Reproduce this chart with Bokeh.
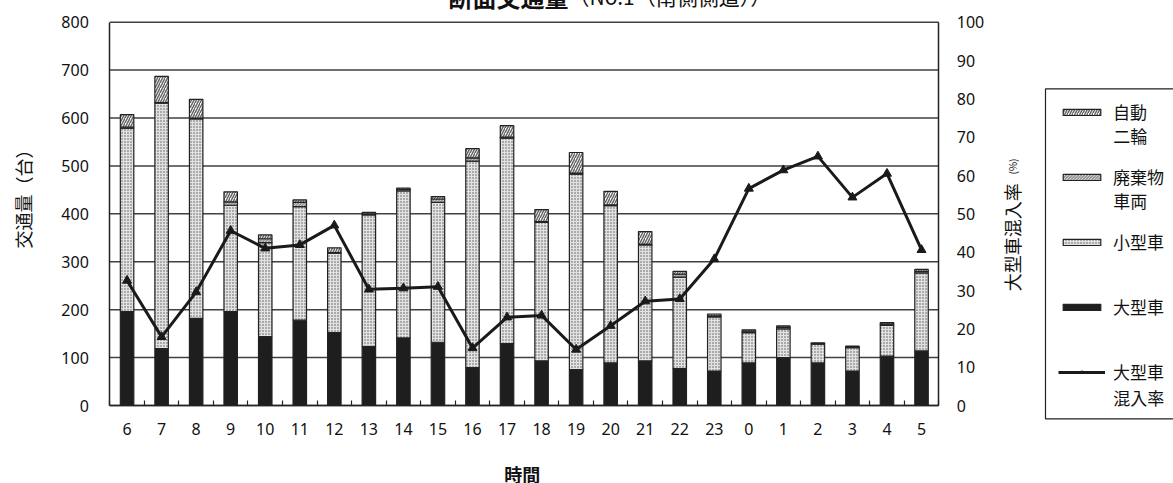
import math
from bokeh.plotting import figure
from bokeh.models import (ColumnDataSource, Range1d, LinearAxis, FixedTicker, Label,
                          Legend, LegendItem, BoxAnnotation)
from bokeh.embed import file_html
from bokeh.resources import INLINE

# ---- data ----
hours = ["6", "7", "8", "9", "10", "11", "12", "13", "14", "15", "16", "17",
         "18", "19", "20", "21", "22", "23", "0", "1", "2", "3", "4", "5"]
large = [196, 119, 182, 196, 144, 178, 152, 123, 141, 132, 79, 129,
         93, 75, 89, 93, 77, 72, 89, 100, 89, 72, 103, 114]
small = [383, 512, 416, 222, 196, 237, 166, 275, 307, 292, 431, 429,
         289, 408, 328, 242, 191, 113, 63, 60, 39, 49, 64, 163]
waste = [2, 1, 2, 7, 8, 9, 1, 2, 3, 7, 7, 2,
         2, 2, 2, 2, 6, 2, 3, 3, 1, 1, 3, 3]
moto = [26, 55, 39, 21, 8, 5, 10, 3, 3, 5, 19, 24,
        25, 43, 28, 26, 6, 4, 3, 3, 2, 2, 3, 4]
ratio = [32.6, 17.9, 29.6, 45.6, 41.0, 41.9, 47.0, 30.3, 30.6, 31.0, 15.0, 23.0,
         23.5, 14.6, 20.8, 27.2, 27.8, 38.2, 56.6, 61.4, 65.0, 54.3, 60.5, 40.6]
left_ticks = [0, 100, 200, 300, 400, 500, 600, 700, 800]
right_ticks = [0, 10, 20, 30, 40, 50, 60, 70, 80, 90, 100]
series_names = ["自動\n二輪", "廃棄物\n車両", "小型車", "大型車", "大型車\n混入率"]
title_main = "断面交通量"
title_sub = "（No.1（南側側道））"
x_title = "時間"
y_title = "交通量（台）"
y2_title = "大型車混入率"
y2_unit = "(%)"

n = len(hours)
x = [i + 0.5 for i in range(n)]
src = ColumnDataSource(dict(x=x, large=large, small=small, waste=waste,
                            moto=moto, ratio=ratio))

JP = "Noto Sans CJK JP"
NUM = "Noto Sans"

# canvas covers the window (page x 0..1173, page y -22..483)
W, H = 1173, 505
PX_L, PX_R = 109.3, 938.3          # plot-area left/right (page px)
PY_T, PY_B = 21.7, 405.0           # plot-area top/bottom (page px)
CAN_T, CAN_B = -22.0, 483.0
ymax = max(left_ticks)
ymax2 = max(right_ticks)
xs = (PX_R - PX_L) / n
ys = (PY_B - PY_T) / ymax
x_range = Range1d(-PX_L / xs, n + (W - PX_R) / xs)
y_range = Range1d(-(CAN_B - PY_B) / ys, (PY_B - CAN_T) / ys)
k = ymax2 / ymax
pct_range = Range1d(y_range.start * k, y_range.end * k)

p = figure(width=W, height=H, output_backend="svg", toolbar_location=None,
           x_range=x_range, y_range=y_range,
           min_border_left=0, min_border_right=0, min_border_top=0, min_border_bottom=0)
p.styles = {"position": "absolute", "left": "0px", "top": "-22px"}
p.background_fill_color = "white"
p.border_fill_color = "white"
p.outline_line_color = None
p.xgrid.visible = False
p.ygrid.visible = False

p.extra_y_ranges = {"pct": pct_range}
rax = LinearAxis(y_range_name="pct", ticker=FixedTicker(ticks=right_ticks))
p.add_layout(rax, "right")

lax = p.yaxis[0]
lax.ticker = FixedTicker(ticks=left_ticks)
lax.fixed_location = 0
lax.bounds = (0, ymax)
rax.fixed_location = n
rax.bounds = (0, ymax2)
for ax in [lax, rax]:
    ax.major_tick_in = 0
    ax.major_tick_out = 0
    ax.minor_tick_in = 0
    ax.minor_tick_out = 0
    ax.major_label_text_font = NUM
    ax.major_label_text_font_size = "16px"
    ax.major_label_text_color = "#111111"
    ax.axis_line_color = "#222222"
    ax.axis_line_width = 1.5
lax.major_label_standoff = 21
rax.major_label_standoff = 18

xa = p.xaxis[0]
xa.fixed_location = 0
xa.bounds = (0, n)
xa.ticker = FixedTicker(ticks=x, minor_ticks=list(range(n + 1)))
xa.major_label_overrides = {xi: h for xi, h in zip(x, hours)}
xa.major_tick_in = 0
xa.major_tick_out = 0
xa.minor_tick_in = 5
xa.minor_tick_out = 0
xa.minor_tick_line_color = "#222222"
xa.minor_tick_line_width = 1.2
xa.major_label_text_font = NUM
xa.major_label_text_font_size = "16px"
xa.major_label_text_color = "#111111"
xa.major_label_standoff = 17
xa.axis_line_color = "#222222"
xa.axis_line_width = 1.5

# horizontal gridlines limited to the plot area
p.segment(x0=[0] * len(left_ticks), x1=[n] * len(left_ticks), y0=left_ticks, y1=left_ticks,
          line_color="#404040", line_width=1.5, level="underlay")

# stacked bars
bars = p.vbar_stack(["large", "small", "waste", "moto"], x="x", width=0.39, source=src,
                    fill_color=["#1e1e1e", "#e2e2e2", "#ffffff", "#ffffff"],
                    hatch_pattern=[" ", "dot", "left_diagonal_line", "right_diagonal_line"],
                    hatch_color=["#1e1e1e", "#555555", "#777777", "#666666"],
                    hatch_scale=[1, 3, 3, 5],
                    hatch_weight=[1, 1, 1, 1.5],
                    line_color="#222222", line_width=1.2)

line_r = p.line("x", "ratio", source=src, y_range_name="pct", line_width=3,
                line_color="#1a1a1a")
tri_r = p.scatter("x", "ratio", source=src, y_range_name="pct", marker="triangle",
                  size=9, fill_color="#1a1a1a", line_color="#1a1a1a")

# legend (screen units: origin at bottom-left of canvas, y up)
def sy(page_y):
    return CAN_B - page_y

first = [s.split("\n")[0] for s in series_names]
legend = Legend(items=[
    LegendItem(label=first[0], renderers=[bars[3]]),
    LegendItem(label=first[1], renderers=[bars[2]]),
    LegendItem(label=first[2], renderers=[bars[1]]),
    LegendItem(label=first[3], renderers=[bars[0]]),
    LegendItem(label=first[4], renderers=[line_r, tri_r]),
], location=(1058, sy(384.1)), orientation="vertical", padding=0, margin=0,
    spacing=40, label_height=22, glyph_height=8, glyph_width=47, label_standoff=8,
    label_text_font=JP, label_text_font_size="17px", label_text_color="#111111",
    border_line_alpha=0, background_fill_alpha=0)
p.add_layout(legend)

box = BoxAnnotation(left=1045, right=1200, top=sy(88.3), bottom=sy(418.3),
                    left_units="screen", right_units="screen", top_units="screen",
                    bottom_units="screen", fill_alpha=0, line_color="#222222",
                    line_width=1.2, line_alpha=1)
p.add_layout(box)

# second lines of legend labels
for s, yy in zip(series_names, [135.0, 200.0, None, None, 396.5]):
    if "\n" in s:
        p.add_layout(Label(x=1112.7, y=sy(yy), x_units="screen", y_units="screen",
                           text=s.split("\n")[1], text_font=JP, text_font_size="17px",
                           text_color="#111111", text_baseline="middle", text_align="left"))

# titles
p.add_layout(Label(x=448, y=sy(-4.5), x_units="screen", y_units="screen", text=title_main,
                   text_font=JP, text_font_size="24px", text_font_style="bold",
                   text_color="#111111", text_baseline="alphabetic", text_align="left"))
p.add_layout(Label(x=568, y=sy(-4.5), x_units="screen", y_units="screen", text=title_sub,
                   text_font=JP, text_font_size="21px",
                   text_color="#111111", text_baseline="alphabetic", text_align="left"))
p.add_layout(Label(x=22.5, y=sy(194), x_units="screen", y_units="screen", text=y_title,
                   text_font=JP, text_font_size="18px", angle=math.pi / 2,
                   text_color="#111111", text_baseline="middle", text_align="center"))
p.add_layout(Label(x=1011.7, y=sy(236.7), x_units="screen", y_units="screen", text=y2_title,
                   text_font=JP, text_font_size="18px", angle=math.pi / 2,
                   text_color="#111111", text_baseline="middle", text_align="center"))
p.add_layout(Label(x=1011.7, y=sy(166), x_units="screen", y_units="screen", text=y2_unit,
                   text_font=JP, text_font_size="10px", angle=math.pi / 2,
                   text_color="#111111", text_baseline="middle", text_align="center"))
p.add_layout(Label(x=521.7, y=sy(473), x_units="screen", y_units="screen", text=x_title,
                   text_font=JP, text_font_size="18px", text_font_style="bold",
                   text_color="#111111", text_baseline="middle", text_align="center"))

open("out.html", "w").write(file_html(p, INLINE))
